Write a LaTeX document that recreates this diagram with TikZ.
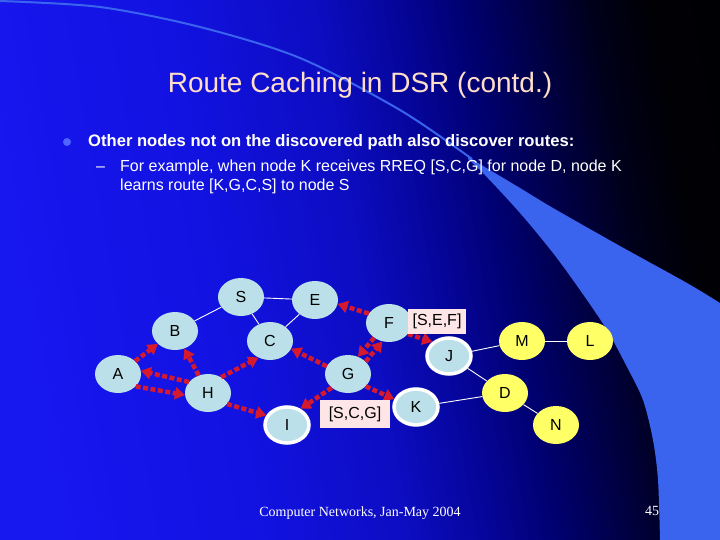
\documentclass[tikz,border=0pt]{standalone}
\usepackage{fontspec}
\setmainfont{Liberation Sans}
\newfontfamily\footserif{Liberation Serif}
\usetikzlibrary{shapes.geometric,arrows.meta,calc}

\definecolor{wedgeblue}{RGB}{58,100,238}
\definecolor{titlecol}{RGB}{255,222,200}
\definecolor{nodeblue}{RGB}{188,224,234}
\definecolor{nodeyellow}{RGB}{255,255,102}
\definecolor{arrowred}{RGB}{215,25,45}
\definecolor{labelpink}{RGB}{255,230,230}
\definecolor{bulletblue}{RGB}{80,100,255}

\pgfdeclarehorizontalshading{slidebg}{100bp}{%
  rgb(0bp)=(0.1,0.1,0.95);
  rgb(25bp)=(0.09,0.09,0.94);
  rgb(40bp)=(0.07,0.07,0.88);
  rgb(50bp)=(0.05,0.05,0.76);
  rgb(56bp)=(0.02,0.02,0.6);
  rgb(61bp)=(0,0,0.43);
  rgb(66bp)=(0,0,0.25);
  rgb(70bp)=(0,0,0.1);
  rgb(74bp)=(0,0,0.02);
  rgb(100bp)=(0,0,0)}

\begin{document}
\begin{tikzpicture}[x=1pt,y=-1pt,
  nd/.style={ellipse, fill=nodeblue, minimum width=46pt, minimum height=38pt, inner sep=0pt, font=\fontsize{16}{16}\selectfont},
  ring/.style={nd, draw=white, line width=3.5pt, minimum width=44pt, minimum height=36pt},
  yel/.style={nd, fill=nodeyellow},
  link/.style={white, line width=0.9pt},
  rr/.style={arrowred, line width=4.5pt, dash pattern=on 5pt off 2.5pt, -{Triangle[length=10pt,width=12pt]}},
  lbl/.style={fill=labelpink, inner sep=0pt, minimum height=25pt, font=\fontsize{16}{16}\selectfont},
  txt/.style={anchor=base west, text=white, inner sep=0pt}
]
\useasboundingbox (0,0) rectangle (720,540);
% background
\shade[shading=slidebg, shading angle=10] (0,0) rectangle (720,540);
% swoosh
\draw[wedgeblue, line width=2pt] plot[smooth] coordinates {(0,1) (100,7) (200,27) (300,58) (400,110) (472,159)};
\fill[wedgeblue] plot[smooth] coordinates {(468,157) (520,188) (553,208) (620,246) (687,283) (720,303)} -- (720,540) -- (660,540) -- plot[smooth] coordinates {(660,540) (658,480) (653,440) (643,400) (627,367) (607,330) (580,290) (553,253) (520,213) (483,173) (468,159)} -- cycle;

% texts
\node[anchor=base, text=titlecol, inner sep=0pt, font=\fontsize{28}{28}\selectfont] (title) at (360,93) {Route Caching in DSR (contd.)};
\fill[bulletblue] (67,142) circle (4pt);
\node[txt, font=\bfseries\fontsize{16.6}{20}\selectfont] (b1) at (88,147) {Other nodes not on the discovered path also discover routes:};
\node[txt, font=\fontsize{16}{20}\selectfont] (dash) at (96,172) {–};
\node[txt, font=\fontsize{16}{20}\selectfont] (l1) at (120,172) {For example, when node K receives RREQ [S,C,G] for node D, node K};
\node[txt, font=\fontsize{16}{20}\selectfont] (l2) at (120,191) {learns route [K,G,C,S] to node S};
\node[anchor=base, text=white, inner sep=0pt, font=\footserif\fontsize{14}{14}\selectfont] (foot) at (360,516) {Computer Networks, Jan-May 2004};
\node[txt, font=\footserif\fontsize{14}{14}\selectfont] (pg) at (645,515) {45};

% nodes
\node[nd] (S) at (241,297) {S};
\node[nd] (E) at (315,300) {E};
\node[nd] (C) at (270,341) {C};
\node[nd] (F) at (389,323) {F};
\node[nd] (B) at (175,331) {B};
\node[nd] (A) at (118,374) {A};
\node[nd] (H) at (208,393) {H};
\node[nd] (G) at (348,374) {G};
\node[ring] (I) at (287,425) {I};
\node[ring] (K) at (416,407) {K};
\node[ring] (J) at (449,356) {J};
\node[yel] (M) at (522,341) {M};
\node[yel] (L) at (590,341) {L};
\node[yel] (D) at (505,393) {D};
\node[yel] (N) at (556,425) {N};

% links
\draw[link] (S) -- (B);
\draw[link] (S) -- (E);
\draw[link] (S) -- (C);
\draw[link] (E) -- (C);
\draw[link] (J) -- (M);
\draw[link] (M) -- (L);
\draw[link] (J) -- (D);
\draw[link] (K) -- (D);
\draw[link] (D) -- (N);

% route request arrows
\draw[rr] (A.37) -- (B.217);
\draw[rr] (H.118) -- (B.298);
\draw[rr] (H.150) -- (A.8);
\draw[rr] (A.-35) -- (H.185);
\draw[rr] (H.50) -- (C.235);
\draw[rr] (H.-30) -- (I.155);
\draw[rr] (G.160) -- (C.-20);
\draw[rr] (G.220) -- (I.50);
\draw[rr] (G.-35) -- (K.160);
\draw[rr] (G.35) -- (F.250);
\draw[rr] (F.225) -- (G.60);
\draw[rr] (F.155) -- (E.-10);
\draw[rr] (F.-30) -- (J.140);

% labels
\node[lbl, minimum width=58pt] (sef) at (437,321.5) {[S,E,F]};
\node[lbl, minimum width=70pt, minimum height=28pt] (scg) at (355,414) {[S,C,G]};
\end{tikzpicture}
\end{document}
